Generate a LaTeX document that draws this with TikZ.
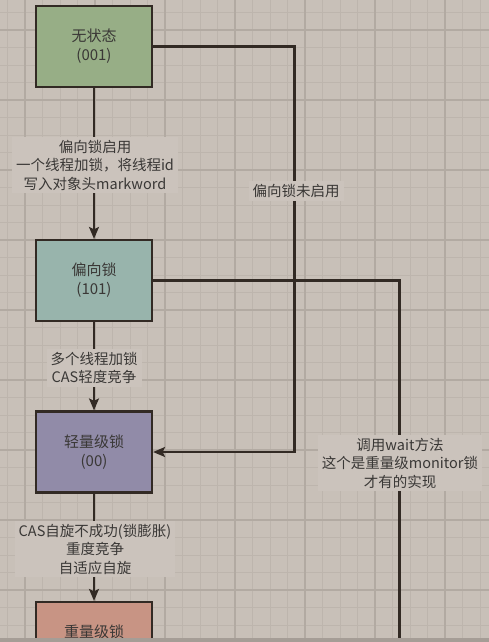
\documentclass[tikz,border=0pt]{standalone}
\usepackage{fontspec}
\setmainfont{Noto Sans CJK SC}
\usetikzlibrary{arrows.meta}
\definecolor{bg}{RGB}{200,192,184}
\definecolor{lblbg}{RGB}{203,195,188}
\definecolor{gridminor}{RGB}{189,181,173}
\definecolor{gridmajor}{RGB}{178,170,162}
\definecolor{ink}{RGB}{50,42,36}
\definecolor{txt}{RGB}{58,56,54}
\definecolor{cgreen}{RGB}{151,174,134}
\definecolor{cteal}{RGB}{152,180,172}
\definecolor{cpurple}{RGB}{145,139,168}
\definecolor{csalmon}{RGB}{200,148,132}
\definecolor{barc}{RGB}{165,157,150}
\begin{document}
\begin{tikzpicture}[x=1pt,y=-1pt,
  state/.style={draw=ink, line width=2.2pt, minimum width=116pt, minimum height=81pt, inner sep=0pt, align=center, font=\fontsize{15}{19}\selectfont, text=txt},
  conn/.style={draw=ink, line width=2.2pt},
  arr/.style={conn, -{Stealth[length=12pt,width=10pt,inset=2.5pt]}},
  lbl/.style={fill=lblbg, align=center, font=\fontsize{14.5}{18.5}\selectfont, text=txt, inner xsep=4pt, inner ysep=3pt}]
\useasboundingbox (0,0) rectangle (489,642);
\clip (0,0) rectangle (489,642);
\fill[bg] (0,0) rectangle (489,642);
% grid
\foreach \x in {7.5,25,...,489} \draw[gridminor, line width=0.9pt] (\x,0) -- (\x,642);
\foreach \y in {12.5,30,...,642} \draw[gridminor, line width=0.9pt] (0,\y) -- (489,\y);
\foreach \x in {25,95,...,489} \draw[gridmajor, line width=1.3pt] (\x,0) -- (\x,642);
\foreach \y in {30,100,...,642} \draw[gridmajor, line width=1.3pt] (0,\y) -- (489,\y);
% nodes
\node[state, fill=cgreen] (b1) at (94,46.5) {无状态\\(001)};
\node[state, fill=cteal] (b2) at (94,280.5) {偏向锁\\(101)};
\node[state, fill=cpurple] (b3) at (94,452) {轻量级锁\\(00)};
\node[state, fill=csalmon] (b4) at (94,642.5) {重量级锁\\(10)};
\coordinate (r1) at (294.5,46.5);
\coordinate (w) at (399.5,700);
% connectors
\draw[arr] (b1) -- (b2);
\draw[arr] (b2) -- (b3);
\draw[arr] (b3) -- (b4);
\draw[arr] (b1.east) -- (r1) |- (b3.east);
\draw[conn] (b2.east) -| (w);
% labels
\node[lbl] (l1) at (95,165) {偏向锁启用\\一个线程加锁，将线程id\\写入对象头markword};
\node[lbl] (l2) at (296,191) {偏向锁未启用};
\node[lbl] (l3) at (94,368) {多个线程加锁\\CAS轻度竞争};
\node[lbl] (l4) at (95,549) {CAS自旋不成功(锁膨胀)\\重度竞争\\自适应自旋};
\node[lbl] (l5) at (400,463) {调用wait方法\\这个是重量级monitor锁\\才有的实现};
% bottom bar (cuts the last box, as in the reference)
\fill[barc] (0,638) rectangle (489,642);
\end{tikzpicture}
\end{document}
